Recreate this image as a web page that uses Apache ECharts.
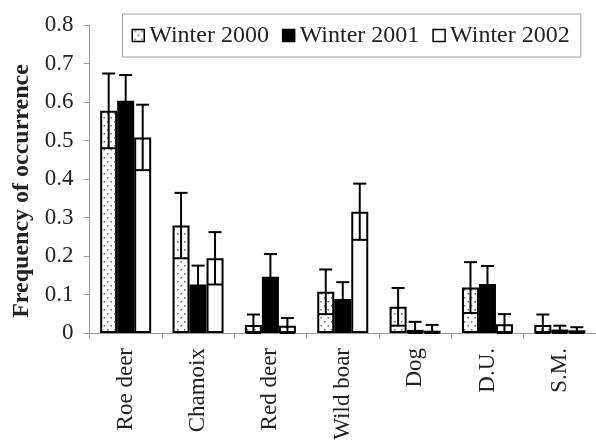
<!DOCTYPE html>
<html>
<head>
<meta charset="utf-8">
<script src="https://cdn.jsdelivr.net/npm/echarts@6/dist/echarts.min.js"></script>
<style>
html,body{margin:0;padding:0;background:#fff;}
#chart{width:596px;height:445px;}
</style>
</head>
<body>
<div id="chart"></div>
<script>
const categories = ['Roe deer', 'Chamoix', 'Red deer', 'Wild boar', 'Dog', 'D.U.', 'S.M.'];
const seriesNames = ['Winter 2000', 'Winter 2001', 'Winter 2002'];
const winter2000 = [0.577, 0.279, 0.021, 0.107, 0.068, 0.118, 0.021];
const winter2001 = [0.603, 0.126, 0.146, 0.088, 0.008, 0.127, 0.009];
const winter2002 = [0.508, 0.194, 0.019, 0.315, 0.006, 0.023, 0.007];
const err2000 = [0.097, 0.085, 0.027, 0.058, 0.049, 0.066, 0.027];
const err2001 = [0.067, 0.049, 0.059, 0.044, 0.021, 0.047, 0.010];
const err2002 = [0.085, 0.068, 0.020, 0.073, 0.015, 0.026, 0.008];
const yTicks = [0, 0.1, 0.2, 0.3, 0.4, 0.5, 0.6, 0.7, 0.8];

const values = [winter2000, winter2001, winter2002];
const errors = [err2000, err2001, err2002];

// dotted fill pattern for Winter 2000
const pat = document.createElement('canvas');
pat.width = 7; pat.height = 8;
const pc = pat.getContext('2d');
pc.fillStyle = '#ffffff';
pc.fillRect(0, 0, 7, 8);
pc.fillStyle = '#6a6a6a';
pc.fillRect(2, 1, 1.5, 1.5);
pc.fillRect(5.5, 5, 1.5, 1.5);

const fills = [{image: pat, repeat: 'repeat'}, '#000000', '#ffffff'];
const BAR_W = 17;
const FONT = '"Liberation Serif", "Times New Roman", serif';

const chart = echarts.init(document.getElementById('chart'), null, {renderer: 'canvas'});

const barSeries = values.map((v, i) => ({
  name: seriesNames[i],
  type: 'bar',
  data: v,
  barWidth: BAR_W,
  barGap: '0%',
  itemStyle: {color: fills[i], borderColor: '#000', borderWidth: 2},
  emphasis: {disabled: true},
  z: 2
}));

const errSeries = values.map((v, si) => ({
  name: seriesNames[si],
  type: 'custom',
  data: v.map((val, ci) => [ci, val, errors[si][ci]]),
  z: 5,
  silent: true,
  renderItem: function (params, api) {
    const ci = api.value(0), val = api.value(1), e = api.value(2);
    const offset = (si - 1) * BAR_W;
    const top = api.coord([ci, val + e]);
    const low = api.coord([ci, Math.max(0, val - e)]);
    const x = top[0] + offset;
    const capHalf = 6.5;
    const style = {stroke: '#000', lineWidth: 2};
    return {
      type: 'group',
      children: [
        {type: 'line', shape: {x1: x, y1: top[1], x2: x, y2: low[1]}, style: style},
        {type: 'line', shape: {x1: x - capHalf, y1: top[1], x2: x + capHalf, y2: top[1]}, style: style},
        {type: 'line', shape: {x1: x - capHalf - 1, y1: low[1], x2: x + capHalf + 1, y2: low[1]}, style: style}
      ]
    };
  }
}));

chart.setOption({
  animation: false,
  backgroundColor: '#fff',
  grid: {left: 89.5, right: -8, top: 25, bottom: 112, containLabel: false},
  legend: {
    data: seriesNames,
    left: 122.5,
    top: 14,
    orient: 'horizontal',
    icon: 'rect',
    itemWidth: 12,
    itemHeight: 12,
    itemGap: 13,
    padding: [9, 11, 9, 9],
    borderColor: '#a0a0a0',
    borderWidth: 1,
    backgroundColor: '#fff',
    selectedMode: false,
    itemStyle: {borderColor: '#000', borderWidth: 1.5},
    textStyle: {fontFamily: FONT, fontSize: 24, color: '#222', lineHeight: 25}
  },
  xAxis: {
    type: 'category',
    data: categories,
    axisLine: {lineStyle: {color: '#999', width: 1}},
    axisTick: {show: true, length: 6, lineStyle: {color: '#999'}},
    axisLabel: {rotate: 90, margin: 15, fontFamily: FONT, fontSize: 23, color: '#222', interval: 0}
  },
  yAxis: {
    type: 'value',
    min: 0,
    max: 0.8,
    interval: 0.1,
    splitLine: {show: false},
    axisLine: {show: true, lineStyle: {color: '#999', width: 1}},
    axisTick: {show: true, length: 6, lineStyle: {color: '#999'}},
    axisLabel: {
      margin: 16, fontFamily: FONT, fontSize: 23, color: '#222',
      formatter: function (v) {
        const t = yTicks.find(k => Math.abs(k - v) < 1e-9);
        return t === 0 ? '0' : (t !== undefined ? t.toFixed(1) : '');
      }
    }
  },
  graphic: [{
    type: 'text',
    x: 22,
    y: 191,
    rotation: Math.PI / 2,
    style: {
      text: 'Frequency of occurrence',
      font: 'bold 24px ' + FONT,
      fill: '#222',
      align: 'center',
      verticalAlign: 'middle'
    }
  }],
  series: barSeries.concat(errSeries)
});
</script>
</body>
</html>
